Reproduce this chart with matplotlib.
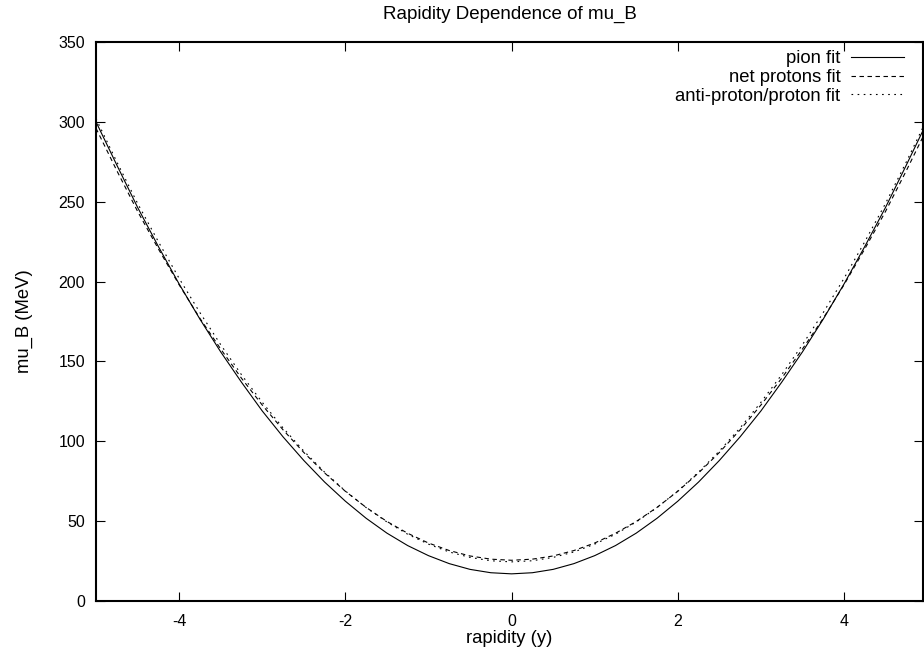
import numpy as np
import matplotlib
matplotlib.use("Agg")
import matplotlib.pyplot as plt

# rapidity grid and fitted mu_B values (MeV)
rapidity = [-5.0, -4.75, -4.5, -4.25, -4.0, -3.75, -3.5, -3.25, -3.0, -2.75,
            -2.5, -2.25, -2.0, -1.75, -1.5, -1.25, -1.0, -0.75, -0.5, -0.25,
            0.0, 0.25, 0.5, 0.75, 1.0, 1.25, 1.5, 1.75, 2.0, 2.25,
            2.5, 2.75, 3.0, 3.25, 3.5, 3.75, 4.0, 4.25, 4.5, 4.75, 5.0]
pion_fit = [300.0, 273.0, 246.5, 222.0, 198.5, 176.5, 156.0, 137.0, 119.0, 102.8,
            88.0, 74.5, 62.5, 51.8, 42.5, 34.7, 28.4, 23.4, 19.8, 17.7,
            17.0, 17.7, 19.8, 23.4, 28.4, 34.7, 42.5, 51.8, 62.5, 74.5,
            88.0, 102.8, 119.0, 137.0, 156.0, 176.5, 198.5, 222.0, 246.5, 273.0, 300.0]
net_proton_fit = [296.0, 269.5, 244.0, 220.5, 198.0, 177.0, 157.8, 139.5, 122.7, 107.2,
                  93.0, 80.2, 68.7, 58.6, 49.8, 42.4, 36.3, 31.6, 28.2, 26.2,
                  25.5, 26.2, 28.2, 31.6, 36.3, 42.4, 49.8, 58.6, 68.7, 80.2,
                  93.0, 107.2, 122.7, 139.5, 157.8, 177.0, 198.0, 220.5, 244.0, 269.5, 296.0]
pbar_p_fit = [302.0, 275.0, 249.0, 225.0, 202.0, 180.6, 160.5, 141.7, 124.4, 108.4,
              93.9, 80.7, 68.9, 58.5, 49.5, 41.8, 35.6, 30.7, 27.3, 25.2,
              24.5, 25.2, 27.3, 30.7, 35.6, 41.8, 49.5, 58.5, 68.9, 80.7,
              93.9, 108.4, 124.4, 141.7, 160.5, 180.6, 202.0, 225.0, 249.0, 275.0, 302.0]

labels = ["pion fit", "net protons fit", "anti-proton/proton fit"]
xticks = [-4, -2, 0, 2, 4]
yticks = [0, 50, 100, 150, 200, 250, 300, 350]

plt.rcParams["font.family"] = ["Liberation Sans", "DejaVu Sans"]
plt.rcParams["font.size"] = 11.5

fig = plt.figure(figsize=(9.24, 6.64), dpi=100)
ax = fig.add_axes([96 / 924, 1 - 601 / 664, 827 / 924, 559 / 664])

ax.plot(rapidity, pion_fit, color="black", lw=0.8, label=labels[0])
ax.plot(rapidity, net_proton_fit, color="black", lw=0.8, dashes=(4.0, 3.2), label=labels[1])
ax.plot(rapidity, pbar_p_fit, color="black", lw=0.8, dashes=(1.5, 4.0), label=labels[2])

ax.set_xlim(-5, 4.95)
ax.set_ylim(0, 350)
ax.set_xticks(xticks)
ax.set_xticklabels([str(t) for t in xticks])
ax.set_yticks(yticks)
ax.tick_params(direction="in", length=6.5, width=0.8, top=True, right=True)
ax.tick_params(axis="x", pad=9)
ax.tick_params(axis="y", pad=8)
for s in ax.spines.values():
    s.set_linewidth(1.5)

ax.set_title("Rapidity Dependence of mu_B", pad=17, fontsize=13.5)
ax.set_xlabel("rapidity (y)", labelpad=1, fontsize=13.3)
ax.set_ylabel("mu_B (MeV)", labelpad=18, fontsize=13.3)

ax.legend(loc="upper right", bbox_to_anchor=(0.994, 1.01), frameon=False, markerfirst=False,
          handlelength=2.9, handletextpad=0.55, labelspacing=0.1, borderpad=0.25,
          fontsize=13.3)

fig.savefig("out.png", dpi=100)
